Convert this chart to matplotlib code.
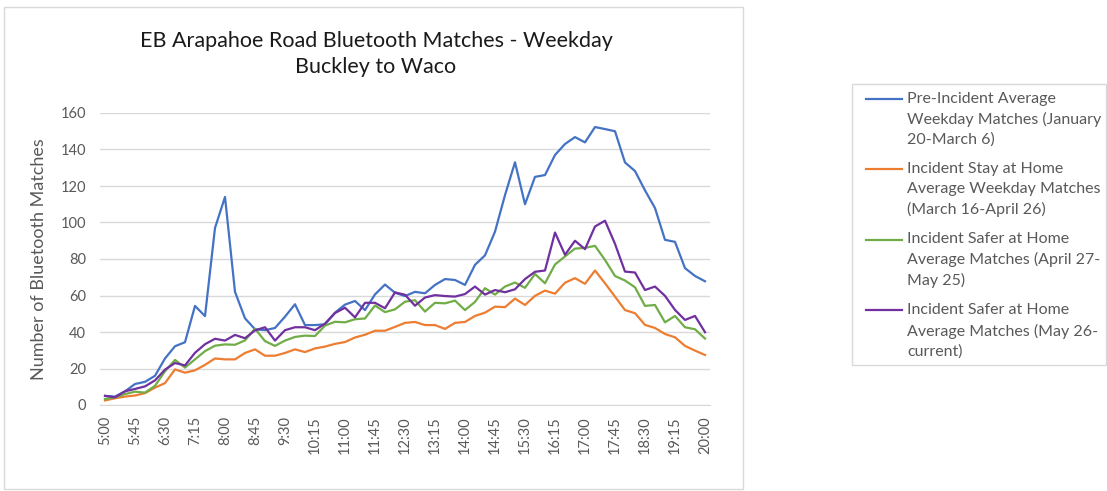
import numpy as np
import matplotlib.pyplot as plt
from matplotlib.legend_handler import HandlerLine2D
from matplotlib.patches import Rectangle

# 15-minute bins from 5:00 to 20:00
time_labels = [f"{h}:{m:02d}" for h in range(5, 21) for m in (0, 15, 30, 45)][:61]

pre_incident = [5, 4.6, 7.5, 11.5, 12.7, 16, 25.5, 32.2, 34.4, 54.3, 48.7, 97, 114, 62, 47.5,
                41.5, 41, 42.2, 48.4, 55.2, 43.8, 43.8, 44.2, 50.6, 55, 57, 52, 60.6, 66, 61.5,
                59.7, 62, 61.2, 65.8, 69, 68.5, 65.8, 76.8, 82, 95, 115, 133, 110, 125, 126,
                137, 143, 146.8, 143.9, 152.3, 151.2, 150, 132.9, 128.2, 117.6, 107.9, 90.5,
                89.4, 75, 70.7, 67.8]
stay_at_home = [2.5, 3.7, 4.6, 5.2, 6.5, 9.5, 12, 19.5, 17.7, 19, 22, 25.5, 25, 25, 28.5, 30.5,
                27, 27, 28.5, 30.5, 29, 31, 32, 33.5, 34.5, 37, 38.5, 40.7, 40.7, 42.8, 45,
                45.5, 43.8, 43.8, 41.7, 45, 45.5, 48.8, 50.6, 53.9, 53.6, 58.3, 54.8, 59.8,
                62.7, 61, 67, 69.5, 66.4, 73.7, 66.7, 59.4, 52, 50.3, 43.9, 42.2, 38.9, 37.1,
                32.4, 29.8, 27.4]
safer_apr_may = [3.3, 4.2, 6, 7.3, 6.8, 10.5, 18.5, 24.7, 20.5, 25, 29.5, 32.5, 33.2, 33,
                 35.4, 41.8, 35, 32.4, 35.3, 37.3, 38, 37.8, 43.5, 45.6, 45.3, 47, 47.4, 54.5,
                 50.9, 52.4, 56.6, 57.4, 51.2, 56, 55.7, 57.2, 52, 56.5, 64, 60.5, 64.9, 67.1,
                 64.2, 71.8, 66.7, 77, 81.4, 85.7, 86.1, 87.2, 79.5, 70.7, 68.2, 64.5, 54.3,
                 54.8, 45.3, 48.8, 42.6, 41.5, 36.4]
safer_may_cur = [5, 4.2, 7.5, 8.8, 10.2, 13.5, 19.4, 23, 21.7, 28.6, 33.3, 36.3, 35.3, 38.4,
                 36.6, 40.9, 42.6, 35.3, 41, 42.6, 42.6, 41, 44.6, 50.4, 53.3, 48, 56, 56, 53,
                 61.7, 60.4, 54.4, 58.9, 60.2, 59.7, 59.4, 60.8, 64.9, 60.5, 63, 61.8, 63.4, 69,
                 73, 73.7, 94.5, 82.3, 90, 85.4, 97.8, 101, 88.3, 73.1, 72.6, 63, 64.9, 59.8,
                 52.1, 46.6, 48.8, 39.9]

labels = ["Pre-Incident Average\nWeekday Matches (January\n20-March 6)",
          "Incident Stay at Home\nAverage Weekday Matches\n(March 16-April 26)",
          "Incident Safer at Home\nAverage Matches (April 27-\nMay 25)",
          "Incident Safer at Home\nAverage Matches (May 26-\ncurrent)"]
colors = ["#4472C4", "#ED7D31", "#70AD47", "#7030A0"]

text_gray = "#595959"
grid_gray = "#d9d9d9"
plt.rcParams["font.family"] = ["Lato", "DejaVu Sans"]

LEG_FS = 11.5
LEG_PITCH_PT = 20.5 * 72 / 100   # distance between text lines in the legend


class FirstLineHandler(HandlerLine2D):
    # put the legend line next to the first line of a multi-line label
    def create_artists(self, legend, orig_handle, xdescent, ydescent, width, height,
                       fontsize, trans):
        arts = super().create_artists(legend, orig_handle, xdescent, ydescent, width,
                                      height, fontsize, trans)
        n = orig_handle.get_label().count("\n")
        for a in arts:
            a.set_ydata(np.asarray(a.get_ydata()) + n * 0.5 * LEG_PITCH_PT)
        return arts


fig = plt.figure(figsize=(11.07, 4.91), dpi=100)
ax = fig.add_axes([100 / 1107, 1 - 405 / 491, 610 / 1107, 292 / 491])

x = np.arange(len(time_labels))
series = [pre_incident, stay_at_home, safer_apr_may, safer_may_cur]
lines = []
for s, lab, c in zip(series, labels, colors):
    ln, = ax.plot(x, s, color=c, lw=1.6, label=lab, solid_joinstyle="round")
    lines.append(ln)

ax.set_xlim(-0.5, len(time_labels) - 0.5)
ax.set_ylim(0, 160)
ax.set_yticks(range(0, 161, 20))
ax.set_xticks(x[::3])
ax.set_xticklabels(time_labels[::3], rotation=90, fontsize=10.5, color=text_gray)
ax.tick_params(axis="y", labelsize=10.5, labelcolor=text_gray, length=0, pad=10)
ax.tick_params(axis="x", length=0, pad=8)
ax.yaxis.grid(True, color=grid_gray, lw=1)
ax.set_axisbelow(True)
for sp in ["top", "right", "left"]:
    ax.spines[sp].set_visible(False)
ax.spines["bottom"].set_color(grid_gray)
ax.set_ylabel("Number of Bluetooth Matches", fontsize=13, color=text_gray, labelpad=10)

fig.text(376 / 1107, 1 - 54 / 491, "EB Arapahoe Road Bluetooth Matches - Weekday\nBuckley to Waco",
         ha="center", va="center", fontsize=15.5, color="#1a1a1a", linespacing=1.38)

# chart area frame
fig.add_artist(Rectangle((4 / 1107, 1 - 489 / 491), 739 / 1107, 482 / 491,
                         transform=fig.transFigure, fill=False, edgecolor=grid_gray, lw=1))

# legend box (drawn separately so the padding can match)
fig.add_artist(Rectangle((852 / 1107, 1 - 365 / 491), 254 / 1107, 281 / 491,
                         transform=fig.transFigure, fill=False, edgecolor=grid_gray, lw=1))

leg = fig.legend(lines, labels, loc="upper left", bbox_to_anchor=(866 / 1107, 1 - 92 / 491),
                 fontsize=LEG_FS, frameon=False, handlelength=2.25, handletextpad=0.32,
                 labelspacing=0.95, borderpad=0, borderaxespad=0,
                 handler_map={type(lines[0]): FirstLineHandler()})
for t in leg.get_texts():
    t.set_color(text_gray)
    t.set_linespacing(1.5)

fig.savefig("out.png", dpi=100)
